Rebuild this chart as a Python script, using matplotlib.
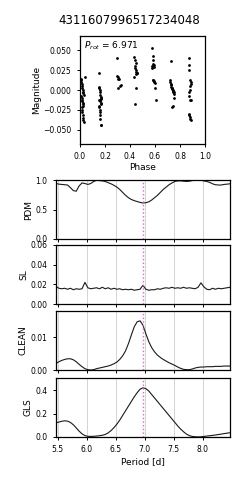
import matplotlib
matplotlib.use('Agg')
import matplotlib.pyplot as plt
import numpy as np

star_id = '4311607996517234048'
p_rot = 6.971

# phase-folded light curve (phase, magnitude)
phase = [0.005, 0.008, 0.010, 0.012, 0.015, 0.018, 0.020, 0.022, 0.025, 0.028, 0.010, 0.013, 0.016, 0.019, 0.021, 0.024, 0.027, 0.012, 0.015, 0.018, 0.020, 0.023, 0.026, 0.030, 0.040,
         0.150, 0.152, 0.155, 0.157, 0.160, 0.162, 0.165, 0.167, 0.170, 0.155, 0.158, 0.161, 0.164, 0.167, 0.150, 0.153, 0.156, 0.159, 0.162, 0.160, 0.165, 0.168,
         0.295, 0.298, 0.302, 0.306, 0.310, 0.320, 0.300, 0.325,
         0.435, 0.440, 0.445, 0.438, 0.442, 0.447, 0.450, 0.452, 0.455, 0.448, 0.433, 0.447, 0.442,
         0.575, 0.580, 0.582, 0.585, 0.588, 0.578, 0.590, 0.575, 0.583, 0.587, 0.592, 0.595, 0.598, 0.600, 0.605,
         0.730, 0.720, 0.722, 0.725, 0.728, 0.730, 0.733, 0.735, 0.738, 0.740, 0.742, 0.745, 0.748, 0.750, 0.755, 0.740, 0.737,
         0.870, 0.872, 0.875, 0.880, 0.885, 0.888, 0.878, 0.882, 0.870, 0.875, 0.880, 0.890, 0.868, 0.872, 0.876, 0.880, 0.885]
mag = [0.014, 0.012, 0.010, 0.008, 0.005, 0.002, 0.000, -0.002, -0.004, -0.006, -0.008, -0.010, -0.012, -0.014, -0.016, -0.018, -0.020, -0.022, -0.025, -0.028, -0.032, -0.035, -0.038, -0.040, 0.016,
       0.022, 0.004, 0.002, 0.000, -0.003, -0.006, -0.009, -0.010, -0.011, -0.012, -0.013, -0.014, -0.016, -0.018, -0.020, -0.022, -0.025, -0.028, -0.032, -0.036, -0.044, -0.044,
       0.040, 0.018, 0.016, 0.014, 0.014, 0.005, 0.003, 0.006,
       0.041, 0.038, 0.034, 0.030, 0.028, 0.025, 0.023, 0.022, 0.021, 0.020, 0.016, 0.003, -0.017,
       0.053, 0.043, 0.038, 0.033, 0.031, 0.030, 0.029, 0.028, 0.013, 0.012, 0.011, 0.010, 0.009, 0.002, -0.012,
       0.036, 0.013, 0.010, 0.008, 0.006, 0.004, 0.003, 0.002, 0.001, 0.000, -0.001, -0.002, -0.003, -0.005, -0.010, -0.020, -0.022,
       0.040, 0.032, 0.025, 0.012, 0.010, 0.008, 0.005, 0.000, -0.002, -0.008, -0.012, -0.012, -0.030, -0.032, -0.034, -0.036, -0.038]

# periodograms
period = [5.47, 5.52, 5.57, 5.62, 5.67, 5.72, 5.77, 5.82, 5.87, 5.92, 5.97, 6.02, 6.07, 6.12, 6.17, 6.22, 6.27, 6.32, 6.37, 6.42,
          6.47, 6.52, 6.57, 6.62, 6.67, 6.72, 6.77, 6.82, 6.87, 6.92, 6.97, 7.02, 7.07, 7.12, 7.17, 7.22, 7.27, 7.32, 7.37, 7.42,
          7.47, 7.52, 7.57, 7.62, 7.67, 7.72, 7.77, 7.82, 7.87, 7.92, 7.97, 8.02, 8.07, 8.12, 8.17, 8.22, 8.27, 8.32, 8.37, 8.42, 8.47]
pdm = [0.94, 0.93, 0.925, 0.92, 0.915, 0.87, 0.82, 0.81, 0.90, 0.95, 0.94, 0.925, 0.94, 0.975, 0.995, 0.99, 0.985, 0.975, 0.955, 0.935,
       0.91, 0.88, 0.84, 0.79, 0.74, 0.70, 0.67, 0.65, 0.635, 0.62, 0.61, 0.615, 0.63, 0.66, 0.70, 0.74, 0.79, 0.84, 0.88, 0.92,
       0.95, 0.975, 0.985, 0.985, 0.98, 0.975, 0.98, 0.99, 1.0, 1.0, 0.995, 0.985, 0.975, 0.96, 0.935, 0.92, 0.915, 0.915, 0.925, 0.93, 0.935]
sl = [0.018, 0.016, 0.0155, 0.016, 0.015, 0.016, 0.0145, 0.0155, 0.015, 0.0155, 0.022, 0.0165, 0.0155, 0.016, 0.0165, 0.0155, 0.017, 0.0155, 0.0165, 0.015,
      0.016, 0.015, 0.0155, 0.0145, 0.015, 0.0145, 0.015, 0.014, 0.0145, 0.015, 0.019, 0.015, 0.014, 0.0145, 0.0145, 0.0155, 0.015, 0.016, 0.0165, 0.016,
      0.017, 0.016, 0.0165, 0.016, 0.017, 0.016, 0.0165, 0.016, 0.0155, 0.017, 0.0215, 0.0175, 0.015, 0.0145, 0.016, 0.015, 0.016, 0.0155, 0.016, 0.0165, 0.017]
clean = [0.0020, 0.0025, 0.0029, 0.0032, 0.0034, 0.0034, 0.0031, 0.0025, 0.0017, 0.0010, 0.0004, 0.0001, 0.0000, 0.0001, 0.0004, 0.0006, 0.0008, 0.0010, 0.0012, 0.0015,
         0.0019, 0.0024, 0.0032, 0.0043, 0.0058, 0.0080, 0.0106, 0.0131, 0.0146, 0.0149, 0.0136, 0.0110, 0.0086, 0.0068, 0.0055, 0.0045, 0.0038, 0.0032, 0.0027, 0.0022,
         0.0018, 0.0014, 0.0009, 0.0005, 0.0002, 0.0001, 0.0001, 0.0003, 0.0006, 0.0008, 0.0009, 0.0009, 0.0010, 0.0010, 0.0010, 0.0011, 0.0011, 0.0011, 0.0012, 0.0012, 0.0012]
gls = [0.122, 0.128, 0.135, 0.139, 0.136, 0.125, 0.105, 0.078, 0.050, 0.027, 0.012, 0.006, 0.005, 0.006, 0.008, 0.011, 0.015, 0.022, 0.035, 0.055,
       0.080, 0.110, 0.145, 0.185, 0.225, 0.265, 0.305, 0.345, 0.380, 0.410, 0.422, 0.415, 0.395, 0.365, 0.335, 0.305, 0.275, 0.245, 0.215, 0.185,
       0.155, 0.125, 0.095, 0.068, 0.045, 0.025, 0.012, 0.005, 0.002, 0.001, 0.002, 0.005, 0.008, 0.011, 0.014, 0.017, 0.021, 0.025, 0.029, 0.033, 0.037]

plt.rcParams['font.family'] = ['DejaVu Sans']
plt.rcParams['xtick.labelsize'] = 5.5
plt.rcParams['ytick.labelsize'] = 5.5
plt.rcParams['xtick.major.size'] = 2.5
plt.rcParams['ytick.major.size'] = 2.5
plt.rcParams['xtick.major.width'] = 0.7
plt.rcParams['ytick.major.width'] = 0.7
plt.rcParams['axes.linewidth'] = 0.9

fig = plt.figure(figsize=(2.49, 4.80), dpi=100)
fig.text(0.52, 0.958, star_id, ha='center', va='center', fontsize=8.5)

# light curve panel
ax = fig.add_axes([80/249, 1-144/480, 125/249, 108/480])
ax.scatter(phase, mag, s=4, c='k', lw=0)
ax.set_xlim(0, 1)
ax.set_ylim(-0.068, 0.068)
ax.set_yticks([-0.05, -0.025, 0, 0.025, 0.05])
ax.set_yticklabels(['\u22120.050', '\u22120.025', '0.000', '0.025', '0.050'])
ax.set_xticks([0, 0.2, 0.4, 0.6, 0.8, 1.0])
ax.set_xlabel('Phase', fontsize=6.5, labelpad=1)
ax.set_ylabel('Magnitude', fontsize=6.5, labelpad=2)
ax.text(0.03, 0.97, r'$P_{rot}$ = %.3f' % p_rot, transform=ax.transAxes, ha='left', va='top', fontsize=6.5)

# periodogram panels
tops = [180, 245, 311, 378]
names = ['PDM', 'SL', 'CLEAN', 'GLS']
series = [pdm, sl, clean, gls]
ylims = [(0, 1.0), (0, 0.06), (0, max(clean) * 1.2), (0, max(gls) * 1.2)]
yticks = [[0, 0.5, 1.0], [0, 0.02, 0.04, 0.06], [0, 0.01], [0, 0.2, 0.4]]
yfmt = ['%.1f', '%.2f', '%.2f', '%.1f']
for i in range(4):
    a = fig.add_axes([56/249, 1-(tops[i]+59)/480, 174/249, 59/480])
    for g in [5.5, 6.0, 6.5, 7.0, 7.5, 8.0]:
        a.axvline(g, color='#d4d4d4', lw=0.7, zorder=0)
    a.plot(period, series[i], color='#1a1a1a', lw=0.8)
    a.axvline(p_rot, color='#ee55ee', ls=':', lw=1.0)
    a.set_xlim(p_rot - 1.5, p_rot + 1.5)
    a.set_ylim(*ylims[i])
    a.set_yticks(yticks[i])
    a.set_yticklabels([yfmt[i] % v for v in yticks[i]])
    a.set_xticks([5.5, 6.0, 6.5, 7.0, 7.5, 8.0])
    a.set_ylabel(names[i], fontsize=6.5, labelpad=2)
    if i < 3:
        a.set_xticklabels([])
    else:
        a.set_xlabel('Period [d]', fontsize=6.5, labelpad=2)

fig.savefig('out.png', dpi=100)
